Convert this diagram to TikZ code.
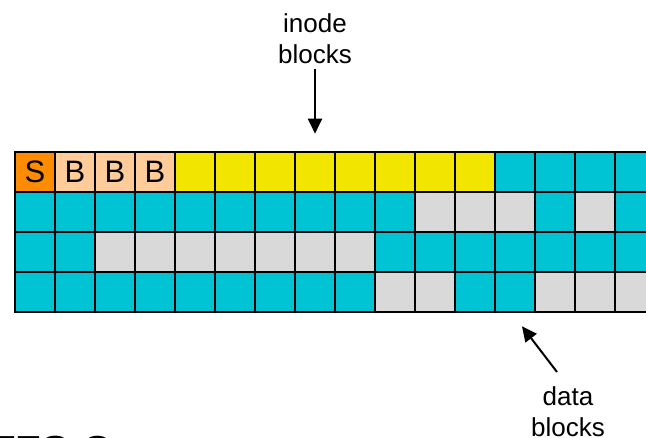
\documentclass[tikz,border=0pt]{standalone}
\usepackage{fontspec}
\setmainfont{Liberation Sans}
\usetikzlibrary{arrows.meta}

\def\cellsize{40}
\definecolor{superfill}{RGB}{255, 140, 0}
\definecolor{bmapfill}{RGB}{255, 204, 153}
\definecolor{inodefill}{RGB}{242, 230, 0}
\definecolor{datafill}{RGB}{0, 195, 212}
\definecolor{freefill}{RGB}{217, 217, 217}

\begin{document}
\begin{tikzpicture}[x=1pt, y=-1pt,
    block/.style={draw, line width=2.6pt, minimum size=40pt, inner sep=0pt, font=\fontsize{31}{36}\selectfont},
    cellS/.style={block, fill=superfill, node contents=S},
    cellB/.style={block, fill=bmapfill, node contents=B},
    cellI/.style={block, fill=inodefill, node contents={}},
    cellD/.style={block, fill=datafill, node contents={}},
    cellF/.style={block, fill=freefill, node contents={}},
    caption/.style={align=center, inner sep=0pt, anchor=north, font=\fontsize{26}{31}\selectfont},
    pointer/.style={-{Triangle[length=15pt, width=14pt]}, line width=2pt}
    ]

    \useasboundingbox (0,0) rectangle (646,437);
    \clip (0,0) rectangle (646,437);

    % S = super block, B = bitmap, I = inodes, D = used data, F = free
    \newcommand{\blockmap}{%
        {S,B,B,B,I,I,I,I,I,I,I,I,D,D,D,D},%
        {D,D,D,D,D,D,D,D,D,D,F,F,F,D,F,D},%
        {D,D,F,F,F,F,F,F,F,D,D,D,D,D,D,D},%
        {D,D,D,D,D,D,D,D,D,F,F,D,D,F,F,F}%
    }

    % Define blocks
    \foreach [count = \i] \row in \blockmap {
    \foreach [count = \j] \kind in \row {
        \pgfmathsetmacro{\cx}{15 + \cellsize*(\j-0.5)}
        \pgfmathsetmacro{\cy}{152 + \cellsize*(\i-0.5)}
        \node[cell\kind, at={(\cx,\cy)}, name=c\i-\j];
    }
    }

    % Labels
    \node[caption, at={(315,13)}, name=ilabel] {inode\\blocks};
    \node[caption, at={(568,386)}, name=dlabel] {data\\blocks};
    \node[anchor=base west, inner sep=0pt, font=\bfseries\fontsize{42}{50}\selectfont,
        at={(-10,465)}, name=cutline] {FFS Org};

    % Arrows
    \draw[pointer] ([yshift=-6pt]ilabel.south) -- ([yshift=17pt]c1-8.north);
    \draw[pointer] ([xshift=-11pt, yshift=14pt]dlabel.north) -- ([xshift=7pt, yshift=-13pt]c4-13.south);
\end{tikzpicture}
\end{document}
